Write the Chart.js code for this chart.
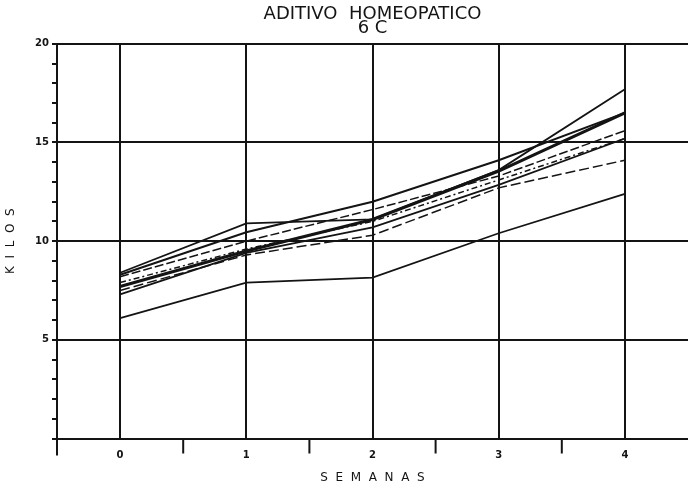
<!DOCTYPE html>
<html>
<head>
<meta charset="utf-8">
<script src="https://cdn.jsdelivr.net/npm/chart.js@4/dist/chart.umd.min.js"></script>
<style>
  body { margin: 0; background: #fff; }
  canvas { display: block; }
</style>
</head>
<body>
<canvas id="grafica" width="688" height="488"></canvas>
<script>
// semanas y peso (kg) de cada animal
const semanas = [0, 1, 2, 3, 4];
const animal1 = [6.1, 7.9, 8.15, 10.4, 12.4];
const animal2 = [8.4, 10.9, 11.1, 13.6, 17.7];
const animal3 = [8.3, 10.45, 12.0, 14.1, 16.5];
const animal4 = [8.2, 10.0, 11.6, 13.3, 15.6];
const animal5 = [7.9, 9.6, 11.0, 13.1, 15.2];
const animal6 = [7.3, 9.4, 10.7, 12.85, 15.2];
const animal7 = [7.5, 9.3, 10.3, 12.7, 14.1];
const promedio = [7.7, 9.5, 11.1, 13.55, 16.5];

const ticksX = [0, 1, 2, 3, 4];
const medias = [0.5, 1.5, 2.5, 3.5];

const NEGRO = "#141414";
const FUENTE = "'DejaVu Sans', 'Liberation Sans', sans-serif";

function serie(valores, ancho, guiones) {
  return {
    data: semanas.map((s, i) => ({ x: s, y: valores[i] })),
    borderColor: NEGRO,
    borderWidth: ancho,
    borderDash: guiones || [],
    pointRadius: 0,
    fill: false,
    tension: 0,
  };
}

// marcas de media semana bajo el eje y prolongacion del eje izquierdo
const marcasMenores = {
  id: "marcasMenores",
  afterDraw(chart) {
    const { ctx, chartArea, scales } = chart;
    ctx.save();
    ctx.strokeStyle = NEGRO;
    ctx.lineWidth = 2;
    medias.forEach((m) => {
      const px = scales.x.getPixelForValue(m);
      ctx.beginPath();
      ctx.moveTo(px, chartArea.bottom);
      ctx.lineTo(px, chartArea.bottom + 15);
      ctx.stroke();
    });
    ctx.beginPath();
    ctx.moveTo(chartArea.left, chartArea.bottom);
    ctx.lineTo(chartArea.left, chartArea.bottom + 17);
    ctx.stroke();
    ctx.restore();
  },
};

const ctx = document.getElementById("grafica").getContext("2d");
new Chart(ctx, {
  type: "line",
  data: {
    datasets: [
      serie(animal1, 1.8),
      serie(animal2, 1.8),
      serie(animal3, 2),
      serie(animal4, 1.5, [9, 3]),
      serie(animal5, 1.5, [6, 3, 2, 3]),
      serie(animal6, 1.8),
      serie(animal7, 1.5, [10, 4]),
      serie(promedio, 3.2),
    ],
  },
  options: {
    responsive: false,
    animation: false,
    layout: { padding: 0 },
    plugins: {
      legend: { display: false },
      tooltip: { enabled: false },
      title: {
        display: true,
        fullSize: false,
        text: ["ADITIVO  HOMEOPATICO", "6 C"],
        color: NEGRO,
        font: { family: FUENTE, size: 18, weight: "normal", lineHeight: 0.8 },
        padding: { top: 7, bottom: 8 },
      },
    },
    scales: {
      x: {
        type: "linear",
        min: -0.5,
        max: 4.5,
        afterBuildTicks(scale) {
          scale.ticks = ticksX.map((v) => ({ value: v }));
        },
        afterFit(scale) {
          scale.height = 49.5;
        },
        grid: { color: NEGRO, lineWidth: 2, drawTicks: false },
        border: { color: NEGRO, width: 2 },
        ticks: {
          color: NEGRO,
          padding: 11,
          font: { family: FUENTE, size: 10, weight: "bold" },
        },
        title: {
          display: true,
          text: "S  E  M  A  N  A  S",
          color: NEGRO,
          font: { family: FUENTE, size: 12 },
          padding: { top: 0, bottom: 3 },
        },
      },
      y: {
        min: 0,
        max: 20,
        afterFit(scale) {
          scale.width = 57;
        },
        grid: {
          color: (c) => (c.tick && c.tick.value % 5 === 0 ? NEGRO : "rgba(0,0,0,0)"),
          tickColor: NEGRO,
          lineWidth: 2,
          tickLength: 5,
        },
        border: { color: NEGRO, width: 2 },
        ticks: {
          stepSize: 1,
          maxTicksLimit: 30,
          autoSkip: false,
          color: NEGRO,
          padding: 3,
          font: { family: FUENTE, size: 10, weight: "bold" },
          callback: (v) => (v % 5 === 0 && v !== 0 ? v : ""),
        },
        title: {
          display: true,
          text: "K  I  L  O  S",
          color: NEGRO,
          font: { family: FUENTE, size: 12 },
          padding: { top: 4, bottom: 0 },
        },
      },
    },
  },
  plugins: [marcasMenores],
});
</script>
</body>
</html>
